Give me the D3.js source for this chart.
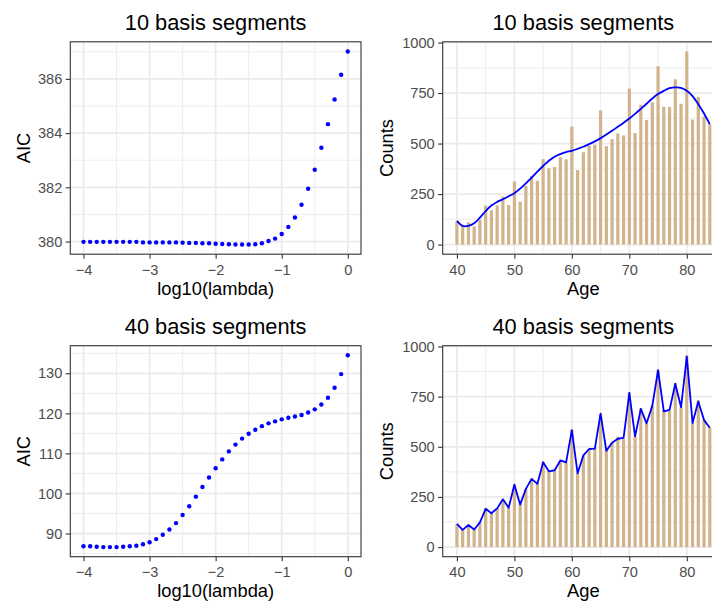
<!DOCTYPE html>
<html><head><meta charset="utf-8">
<script src="https://cdn.jsdelivr.net/npm/d3@7"></script>
<style>
body{margin:0;background:#fff}
text{font-family:"Liberation Sans",Arial,Helvetica,sans-serif}
</style>
</head><body>
<svg id="c" width="712" height="601"></svg>
<script>
// ---------- data ----------
const log10Lambda = [-4.0,-3.9,-3.8,-3.7,-3.6,-3.5,-3.4,-3.3,-3.2,-3.1,-3.0,-2.9,-2.8,-2.7,-2.6,-2.5,-2.4,-2.3,-2.2,-2.1,-2.0,-1.9,-1.8,-1.7,-1.6,-1.5,-1.4,-1.3,-1.2,-1.1,-1.0,-0.9,-0.8,-0.7,-0.6,-0.5,-0.4,-0.3,-0.2,-0.1,0.0];
const aic10 = [379.99,379.99,379.99,379.99,379.99,379.99,379.99,379.99,379.99,379.97,379.97,379.97,379.97,379.97,379.97,379.96,379.95,379.95,379.94,379.94,379.92,379.91,379.90,379.89,379.89,379.89,379.90,379.94,380.02,380.11,380.28,380.54,380.89,381.36,381.95,382.65,383.46,384.33,385.24,386.15,387.01];
const aic40 = [86.8,86.8,86.7,86.6,86.6,86.6,86.7,86.8,86.95,87.3,87.8,88.6,89.7,91.0,92.6,94.6,96.8,99.2,101.6,104.0,106.3,108.5,110.5,112.2,113.7,114.9,115.9,116.8,117.5,118.0,118.5,118.9,119.2,119.6,120.2,121.0,122.2,123.9,126.4,129.8,134.5];

const ages = [40,41,42,43,44,45,46,47,48,49,50,51,52,53,54,55,56,57,58,59,60,61,62,63,64,65,66,67,68,69,70,71,72,73,74,75,76,77,78,79,80,81,82,83,84];
const counts = [116,90,110,90,123,193,170,194,238,196,312,212,290,340,316,423,378,384,432,422,584,369,457,489,495,664,487,522,550,540,772,552,692,617,705,883,682,681,818,697,956,619,731,634,596];
const fit10 = [117,92,92,105,133,166,193,211,224,239,254,277,303,331,361,389,415,435,448,458,464,474,484,497,511,527,545,563,583,603,624,647,672,697,723,745,761,774,778,776,761,735,695,649,596];
const fit40 = [116,86,110,88,123,191,169,193,238,196,311,212,290,340,315,423,378,383,432,422,583,368,457,489,491,665,480,520,540,544,768,552,689,617,704,882,677,684,814,697,949,619,726,633,595];

const lambdaTicks = [-4,-3,-2,-1,0];
const lambdaMinor = [-3.5,-2.5,-1.5,-0.5];
const aic10Ticks = [380,382,384,386];
const aic10Minor = [381,383,385,387];
const aic40Ticks = [90,100,110,120,130];
const aic40Minor = [85,95,105,115,125,135];
const ageTicks = [40,50,60,70,80];
const ageMinor = [45,55,65,75,85];
const countTicks = [0,250,500,750,1000];
const countMinor = [125,375,625,875];

const titles = ["10 basis segments","40 basis segments"];

// ---------- drawing ----------
const svg = d3.select("#c");
svg.append("rect").attr("width",712).attr("height",601).attr("fill","#fff");
const expand = (lo,hi) => { const r = hi-lo; return [lo-0.05*r, hi+0.05*r]; };
let clipN = 0;

function panel(p, xDom, yDom, xTicks, xMinor, yTicks, yMinor, title, xlab, ylab, ylabX, drawData){
  const x = d3.scaleLinear().domain(xDom).range([p.x0,p.x1]);
  const y = d3.scaleLinear().domain(yDom).range([p.y1,p.y0]);
  const g = svg.append("g");
  const id = "clip"+(++clipN);
  g.append("clipPath").attr("id",id).append("rect")
    .attr("x",p.x0).attr("y",p.y0).attr("width",p.x1-p.x0).attr("height",p.y1-p.y0);
  const grid = g.append("g").attr("clip-path",`url(#${id})`);
  grid.selectAll(".vmin").data(xMinor).join("line")
    .attr("x1",d=>x(d)).attr("x2",d=>x(d)).attr("y1",p.y0).attr("y2",p.y1)
    .attr("stroke","#EBEBEB").attr("stroke-width",0.9);
  grid.selectAll(".hmin").data(yMinor).join("line")
    .attr("y1",d=>y(d)).attr("y2",d=>y(d)).attr("x1",p.x0).attr("x2",p.x1)
    .attr("stroke","#EBEBEB").attr("stroke-width",0.9);
  grid.selectAll(".vmaj").data(xTicks).join("line")
    .attr("x1",d=>x(d)).attr("x2",d=>x(d)).attr("y1",p.y0).attr("y2",p.y1)
    .attr("stroke","#EBEBEB").attr("stroke-width",1.8);
  grid.selectAll(".hmaj").data(yTicks).join("line")
    .attr("y1",d=>y(d)).attr("y2",d=>y(d)).attr("x1",p.x0).attr("x2",p.x1)
    .attr("stroke","#EBEBEB").attr("stroke-width",1.8);

  const dg = g.append("g").attr("clip-path",`url(#${id})`);
  drawData(dg, x, y);

  g.append("rect").attr("x",p.x0).attr("y",p.y0)
    .attr("width",p.x1-p.x0).attr("height",p.y1-p.y0)
    .attr("fill","none").attr("stroke","#333333").attr("stroke-width",1.1);

  const fmt = d3.format("d");
  const xa = g.append("g").attr("transform",`translate(0,${p.y1})`)
    .call(d3.axisBottom(x).tickValues(xTicks).tickSize(4.6).tickPadding(5.5).tickFormat(fmt));
  const ya = g.append("g").attr("transform",`translate(${p.x0},0)`)
    .call(d3.axisLeft(y).tickValues(yTicks).tickSize(4.6).tickPadding(3.4).tickFormat(fmt));
  [xa,ya].forEach(a=>{
    a.select(".domain").remove();
    a.attr("font-family",null).attr("font-size",null);
    a.selectAll("line").attr("stroke","#333333").attr("stroke-width",1.1);
    a.selectAll("text").attr("fill","#4D4D4D").style("font-size","14.6px");
  });

  g.append("text").attr("x",(p.x0+p.x1)/2).attr("y",p.y0-12)
    .attr("text-anchor","middle").style("font-size","21.8px").attr("fill","#000").text(title);
  g.append("text").attr("x",(p.x0+p.x1)/2).attr("y",p.y1+40.3)
    .attr("text-anchor","middle").style("font-size","18.3px").attr("fill","#000").text(xlab);
  g.append("text").attr("transform",`translate(${ylabX},${(p.y0+p.y1)/2}) rotate(-90)`)
    .attr("text-anchor","middle").style("font-size","18.3px").attr("fill","#000").text(ylab);
}

const TL = {x0:70.3,x1:361,y0:41.8,y1:254.2};
const TR = {x0:442.7,x1:724,y0:41.8,y1:254.2};
const BL = {x0:70.3,x1:361,y0:345.7,y1:556.7};
const BR = {x0:442.7,x1:724,y0:345.7,y1:556.7};

function dots(arr){
  return (g,x,y)=>{
    g.selectAll("circle").data(log10Lambda).join("circle")
      .attr("cx",d=>x(d)).attr("cy",(d,i)=>y(arr[i])).attr("r",2.2).attr("fill","#0000FF");
  };
}
function barsLine(fit, curve){
  return (g,x,y)=>{
    const hw = 0.28;
    g.selectAll("rect").data(ages).join("rect")
      .attr("x",d=>x(d-hw)).attr("width",d=>x(d+hw)-x(d-hw))
      .attr("y",(d,i)=>y(counts[i])).attr("height",(d,i)=>y(0)-y(counts[i]))
      .attr("fill","#D2B48C");
    const line = d3.line().x(d=>x(d)).y((d,i)=>y(fit[i])).curve(curve);
    g.append("path").datum(ages).attr("d",line)
      .attr("fill","none").attr("stroke","#0000FF").attr("stroke-width",1.8)
      .attr("stroke-linejoin","round");
  };
}

const lamDom = expand(d3.min(log10Lambda), d3.max(log10Lambda));
const ageDom = expand(d3.min(ages)-0.25, d3.max(ages)+0.25);
const cntDom = expand(0, d3.max(counts));

panel(TL, lamDom, expand(d3.min(aic10), d3.max(aic10)), lambdaTicks, lambdaMinor, aic10Ticks, aic10Minor,
      titles[0], "log10(lambda)", "AIC", 30, dots(aic10));
panel(TR, ageDom, cntDom, ageTicks, ageMinor, countTicks, countMinor,
      titles[0], "Age", "Counts", 393.4, barsLine(fit10, d3.curveCatmullRom));
panel(BL, lamDom, expand(d3.min(aic40), d3.max(aic40)), lambdaTicks, lambdaMinor, aic40Ticks, aic40Minor,
      titles[1], "log10(lambda)", "AIC", 30, dots(aic40));
panel(BR, ageDom, cntDom, ageTicks, ageMinor, countTicks, countMinor,
      titles[1], "Age", "Counts", 393.4, barsLine(fit40, d3.curveLinear));
</script>
</body></html>
